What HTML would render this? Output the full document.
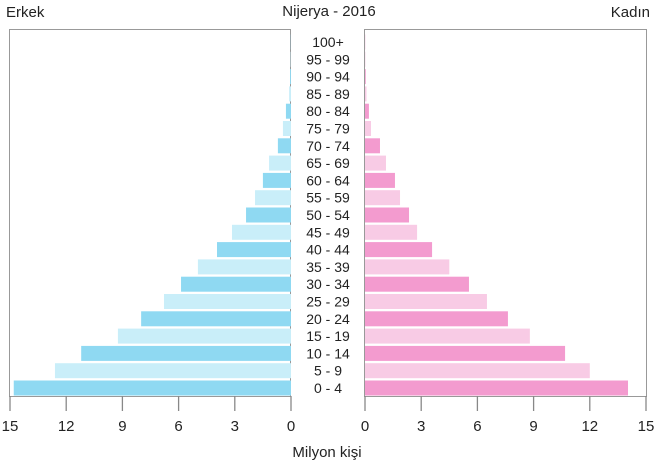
<!DOCTYPE html>
<html><head><meta charset="utf-8"><style>
body{margin:0;background:#fff;width:658px;height:469px;overflow:hidden}
svg{font-family:"Liberation Sans",sans-serif}
</style></head><body>
<svg id="chart" width="658" height="469">
<text x="6" y="17" font-size="15" fill="#222">Erkek</text>
<text x="329" y="16" font-size="15" fill="#222" text-anchor="middle">Nijerya - 2016</text>
<text x="650" y="17" font-size="15" fill="#222" text-anchor="end">Kadın</text>
<rect x="9.5" y="29.5" width="281" height="367" fill="none" stroke="#999"/>
<rect x="364.5" y="29.5" width="282" height="367" fill="none" stroke="#999"/>
<g id="bars"></g>
<g id="axes"></g>
<text x="327" y="457" font-size="15" fill="#222" text-anchor="middle">Milyon kişi</text>
</svg>
<script>
const ageGroups=["0 - 4","5 - 9","10 - 14","15 - 19","20 - 24","25 - 29","30 - 34","35 - 39","40 - 44","45 - 49","50 - 54","55 - 59","60 - 64","65 - 69","70 - 74","75 - 79","80 - 84","85 - 89","90 - 94","95 - 99","100+"];
const maleValues=[14.8,12.6,11.2,9.24,8.0,6.78,5.87,4.97,3.95,3.15,2.4,1.92,1.5,1.17,0.7,0.43,0.27,0.1,0.05,0.02,0.01];
const femaleValues=[14.04,12.0,10.68,8.8,7.63,6.51,5.55,4.5,3.58,2.78,2.35,1.87,1.6,1.12,0.8,0.32,0.21,0.08,0.04,0.02,0.01];
const tickValues=[0,3,6,9,12,15];
const NS="http://www.w3.org/2000/svg";
const maleX=v=>291-v*(281/15);
const femaleX=v=>365+v*(281/15);
const rowY=i=>388-i*17.3;
const bars=document.getElementById('bars'),axes=document.getElementById('axes');
function mk(t,a,p){const e=document.createElementNS(NS,t);for(const k in a)e.setAttribute(k,a[k]);p.appendChild(e);return e;}
ageGroups.forEach((g,i)=>{
  const y=rowY(i),dark=i%2===0;
  const m=mk('rect',{x:maleX(maleValues[i]),y:y-7.5,width:291-maleX(maleValues[i]),height:15,fill:dark?'#8fd9f2':'#c9eef9'},bars);
  
  
  const f=mk('rect',{x:365,y:y-7.5,width:femaleX(femaleValues[i])-365,height:15,fill:dark?'#f39bcf':'#f8cbe5'},bars);
  
  
  const t=mk('text',{x:328,y:y+5,'font-size':14,fill:'#222','text-anchor':'middle'},bars);
  t.textContent=g;
  
  
});
tickValues.forEach(v=>{
  [maleX(v),femaleX(v)].forEach((x,j)=>{
    const l=mk('line',{x1:x,x2:x,y1:396,y2:411,stroke:'#888','stroke-width':1.3},axes);
    
    
    const t=mk('text',{x:x,y:431,'font-size':15,fill:'#222','text-anchor':'middle'},axes);
    t.textContent=v;
    
    
  });
});
</script>
</body></html>
